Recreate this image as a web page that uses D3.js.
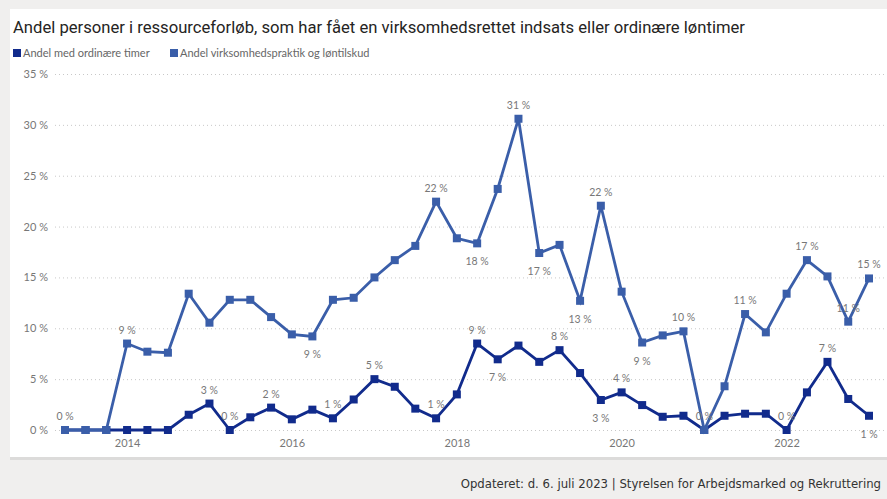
<!DOCTYPE html>
<html>
<head>
<meta charset="utf-8">
<script src="https://cdn.jsdelivr.net/npm/d3@7"></script>
<style>
  html, body { margin: 0; padding: 0; background: #f0efee; }
  svg { display: block; }
</style>
</head>
<body>
<div id="chart"></div>
<script>

// Quarters from 2013 K2 to 2023 K1
var quarters = ['2013-04', '2013-07', '2013-10',
  '2014-01', '2014-04', '2014-07', '2014-10',
  '2015-01', '2015-04', '2015-07', '2015-10',
  '2016-01', '2016-04', '2016-07', '2016-10',
  '2017-01', '2017-04', '2017-07', '2017-10',
  '2018-01', '2018-04', '2018-07', '2018-10',
  '2019-01', '2019-04', '2019-07', '2019-10',
  '2020-01', '2020-04', '2020-07', '2020-10',
  '2021-01', '2021-04', '2021-07', '2021-10',
  '2022-01', '2022-04', '2022-07', '2022-10',
  '2023-01'];

// Andel med ordinære timer (%)
var ordinaere = [0, 0, 0, 0, 0, 0, 1.5, 2.6, 0, 1.25,
  2.2, 1.05, 2.0, 1.15, 3.0, 5.0, 4.25, 2.1, 1.15, 3.5,
  8.5, 6.95, 8.3, 6.7, 7.85, 5.6, 2.95, 3.7, 2.45, 1.3,
  1.4, 0, 1.4, 1.6, 1.6, 0, 3.7, 6.7, 3.05, 1.4];

// Andel virksomhedspraktik og løntilskud (%)
var praktik = [0, 0, 0, 8.5, 7.7, 7.6, 13.4, 10.55, 12.8, 12.8,
  11.1, 9.4, 9.2, 12.8, 13.0, 15.0, 16.7, 18.1, 22.45, 18.85,
  18.35, 23.7, 30.6, 17.4, 18.2, 12.7, 22.05, 13.6, 8.6, 9.3,
  9.7, 0, 4.3, 11.4, 9.6, 13.4, 16.7, 15.1, 10.65, 14.9];

// Points that carry a data label: [index, 'a' above / 'b' below]
var ordinaereLabels = [[7, 'a'], [8, 'a'], [10, 'a'], [13, 'a'], [15, 'a'],
  [18, 'a'], [20, 'a'], [21, 'b'], [24, 'a'], [26, 'b'], [27, 'a'],
  [31, 'a'], [35, 'a'], [37, 'a'], [39, 'b']];
var praktikLabels = [[0, 'a'], [3, 'a'], [12, 'b'], [18, 'a'], [20, 'b'],
  [22, 'a'], [23, 'b'], [25, 'b'], [26, 'a'], [28, 'b'], [30, 'a'],
  [33, 'a'], [36, 'a'], [38, 'a'], [39, 'a']];

var yTicks = [0, 5, 10, 15, 20, 25, 30, 35];
var xTickYears = [2014, 2016, 2018, 2020, 2022];

var seriesNames = ['Andel med ordinære timer', 'Andel virksomhedspraktik og løntilskud'];
var seriesColors = ['#112b8c', '#3a5ea9'];

var title = 'Andel personer i ressourceforløb, som har fået en virksomhedsrettet indsats eller ordinære løntimer';
var footer = 'Opdateret: d. 6. juli 2023 | Styrelsen for Arbejdsmarked og Rekruttering';

var width = 887, height = 499;
var uiFont = '"Segoe UI", Lato, "Open Sans", sans-serif';
var parseQ = d3.timeParse('%Y-%m');
var dates = quarters.map(parseQ);

var svg = d3.select('#chart')
  .append('svg')
  .attr('width', width)
  .attr('height', height);

// background card + footer strip
svg.append('rect').attr('x', 0).attr('y', 0).attr('width', width).attr('height', height).attr('fill', '#f0efee');
svg.append('rect').attr('x', 10).attr('y', 9).attr('width', width - 10).attr('height', 448)
  .attr('fill', '#ffffff');
svg.append('rect').attr('x', 10).attr('y', 457).attr('width', width - 10).attr('height', 3)
  .attr('fill', '#dcdbda');

var x = d3.scaleTime()
  .domain([dates[0], dates[dates.length - 1]])
  .range([65, 869]);

var y = d3.scaleLinear()
  .domain([0, 35])
  .range([430, 74]);

// gridlines
svg.append('g')
  .selectAll('line')
  .data(yTicks)
  .enter()
  .append('line')
  .attr('x1', 55)
  .attr('x2', 885)
  .attr('y1', function(d) { return y(d) + 0.5; })
  .attr('y2', function(d) { return y(d) + 0.5; })
  .attr('stroke', '#c8c8c8')
  .attr('stroke-width', 1)
  .attr('stroke-dasharray', '1,3');

// y axis
var yAxis = d3.axisLeft(y)
  .tickValues(yTicks)
  .tickSize(0)
  .tickPadding(0)
  .tickFormat(function(d) { return d + ' %'; });

svg.append('g')
  .attr('transform', 'translate(48,0)')
  .call(yAxis)
  .call(function(g) { g.select('.domain').remove(); })
  .selectAll('text')
  .attr('fill', '#777777')
  .style('font-family', uiFont)
  .style('font-size', '11px');

// x axis
var xAxis = d3.axisBottom(x)
  .tickValues(xTickYears.map(function(yr) { return new Date(yr, 0, 1); }))
  .tickSize(0)
  .tickPadding(0)
  .tickFormat(d3.timeFormat('%Y'));

svg.append('g')
  .attr('transform', 'translate(0,439)')
  .call(xAxis)
  .call(function(g) { g.select('.domain').remove(); })
  .selectAll('text')
  .attr('fill', '#777777')
  .style('font-family', uiFont)
  .style('font-size', '11px');

var line = d3.line()
  .x(function(d, i) { return x(dates[i]); })
  .y(function(d) { return y(d); });

function drawSeries(values, color) {
  var g = svg.append('g');
  g.append('path')
    .datum(values)
    .attr('d', line)
    .attr('fill', 'none')
    .attr('stroke', color)
    .attr('stroke-width', 2.8)
    .attr('stroke-linejoin', 'miter');
  g.selectAll('rect')
    .data(values)
    .enter()
    .append('rect')
    .attr('x', function(d, i) { return x(dates[i]) - 4; })
    .attr('y', function(d) { return y(d) - 4; })
    .attr('width', 8)
    .attr('height', 8)
    .attr('fill', color);
}

drawSeries(ordinaere, seriesColors[0]);
drawSeries(praktik, seriesColors[1]);

function drawLabels(values, labels) {
  svg.append('g')
    .selectAll('text')
    .data(labels)
    .enter()
    .append('text')
    .attr('x', function(d) { return x(dates[d[0]]); })
    .attr('y', function(d) {
      var py = y(values[d[0]]);
      return d[1] === 'a' ? py - 10 : py + 22;
    })
    .attr('text-anchor', 'middle')
    .attr('fill', '#777777')
    .style('font-family', uiFont)
    .style('font-size', '10.5px')
    .text(function(d) { return Math.round(values[d[0]]) + ' %'; });
}

drawLabels(ordinaere, ordinaereLabels);
drawLabels(praktik, praktikLabels);

// title
svg.append('text')
  .attr('x', 13)
  .attr('y', 33)
  .attr('fill', '#252423')
  .attr('textLength', 732)
  .attr('lengthAdjust', 'spacingAndGlyphs')
  .style('font-family', 'Roboto, "Liberation Sans", sans-serif')
  .style('font-size', '16px')
  .text(title);

// legend
var legendX = [13, 170];
var legend = svg.append('g');
seriesNames.forEach(function(name, i) {
  legend.append('rect')
    .attr('x', legendX[i])
    .attr('y', 49)
    .attr('width', 8)
    .attr('height', 8)
    .attr('fill', seriesColors[i]);
  legend.append('text')
    .attr('x', legendX[i] + 10)
    .attr('y', 57)
    .attr('fill', '#666666')
    .style('font-family', uiFont)
    .style('font-size', '11px')
    .text(name);
});

// footer
svg.append('text')
  .attr('x', 881)
  .attr('y', 488)
  .attr('text-anchor', 'end')
  .attr('fill', '#333333')
  .style('font-family', '"Liberation Sans Narrow", "DejaVu Sans Condensed", Roboto, sans-serif')
  .style('font-size', '13px')
  .text(footer);

</script>
</body>
</html>
